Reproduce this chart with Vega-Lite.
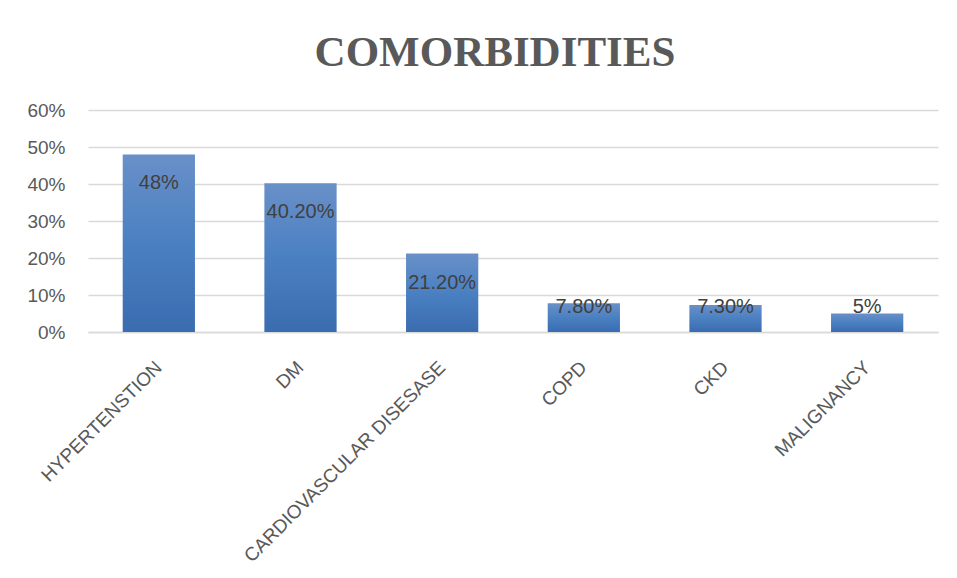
{
  "$schema": "https://vega.github.io/schema/vega-lite/v6.json",
  "autosize": {"type": "none"},
  "width": 850,
  "height": 222,
  "padding": {"left": 88, "top": 110, "right": 19, "bottom": 246},
  "background": "white",
  "config": {"view": {"stroke": null}},
  "title": {
    "text": "COMORBIDITIES",
    "font": "Liberation Serif",
    "fontSize": 43,
    "fontWeight": "bold",
    "color": "#595959",
    "anchor": "middle",
    "frame": "group",
    "dx": -18,
    "offset": 26
  },
  "data": {
    "values": [
      {"condition": "HYPERTENSTION", "value": 0.48, "label": "48%"},
      {"condition": "DM", "value": 0.402, "label": "40.20%"},
      {"condition": "CARDIOVASCULAR DISESASE", "value": 0.212, "label": "21.20%"},
      {"condition": "COPD", "value": 0.078, "label": "7.80%"},
      {"condition": "CKD", "value": 0.073, "label": "7.30%"},
      {"condition": "MALIGNANCY", "value": 0.05, "label": "5%"}
    ]
  },
  "encoding": {
    "x": {
      "field": "condition",
      "type": "nominal",
      "sort": null,
      "scale": {"paddingInner": 0.49, "paddingOuter": 0.245},
      "axis": {
        "title": null,
        "labelAngle": -45,
        "labelAlign": "right",
        "labelBaseline": "middle",
        "labelPadding": 32,
        "labelFont": "Liberation Sans",
        "labelFontSize": 19,
        "labelColor": "#595959",
        "labelOverlap": false,
        "ticks": false,
        "domainColor": "#d9d9d9",
        "domainWidth": 1.5,
        "labelLimit": 400
      }
    },
    "y": {
      "field": "value",
      "type": "quantitative",
      "scale": {"domain": [0, 0.6], "nice": false},
      "axis": {
        "title": null,
        "format": ".0%",
        "values": [0, 0.1, 0.2, 0.3, 0.4, 0.5, 0.6],
        "tickCount": 7,
        "labelOverlap": false,
        "domain": false,
        "ticks": false,
        "gridColor": "#d9d9d9",
        "gridWidth": 1.5,
        "labelPadding": 23,
        "labelFont": "Liberation Sans",
        "labelFontSize": 19,
        "labelColor": "#595959"
      }
    }
  },
  "layer": [
    {
      "mark": {
        "type": "bar",
        "color": {
          "gradient": "linear",
          "x1": 0, "y1": 0, "x2": 0, "y2": 1,
          "stops": [
            {"offset": 0, "color": "#6990c8"},
            {"offset": 0.5, "color": "#4a80c2"},
            {"offset": 1, "color": "#3a6cb0"}
          ]
        }
      }
    },
    {
      "transform": [{"filter": "datum.value >= 0.1"}],
      "mark": {
        "type": "text",
        "baseline": "middle",
        "dy": 29,
        "font": "Liberation Sans",
        "fontSize": 20,
        "color": "#404040"
      },
      "encoding": {
        "text": {"field": "label"}
      }
    },
    {
      "transform": [{"filter": "datum.value < 0.1"}],
      "mark": {
        "type": "text",
        "baseline": "middle",
        "dy": -25,
        "font": "Liberation Sans",
        "fontSize": 20,
        "color": "#404040"
      },
      "encoding": {
        "y": {
          "datum": 0,
          "type": "quantitative",
          "axis": {
            "title": null,
            "format": ".0%",
            "values": [0, 0.1, 0.2, 0.3, 0.4, 0.5, 0.6],
            "tickCount": 7,
            "labelOverlap": false,
            "domain": false,
            "ticks": false,
            "gridColor": "#d9d9d9",
            "gridWidth": 1.5,
            "labelPadding": 23,
            "labelFont": "Liberation Sans",
            "labelFontSize": 19,
            "labelColor": "#595959"
          }
        },
        "text": {"field": "label"}
      }
    }
  ]
}
